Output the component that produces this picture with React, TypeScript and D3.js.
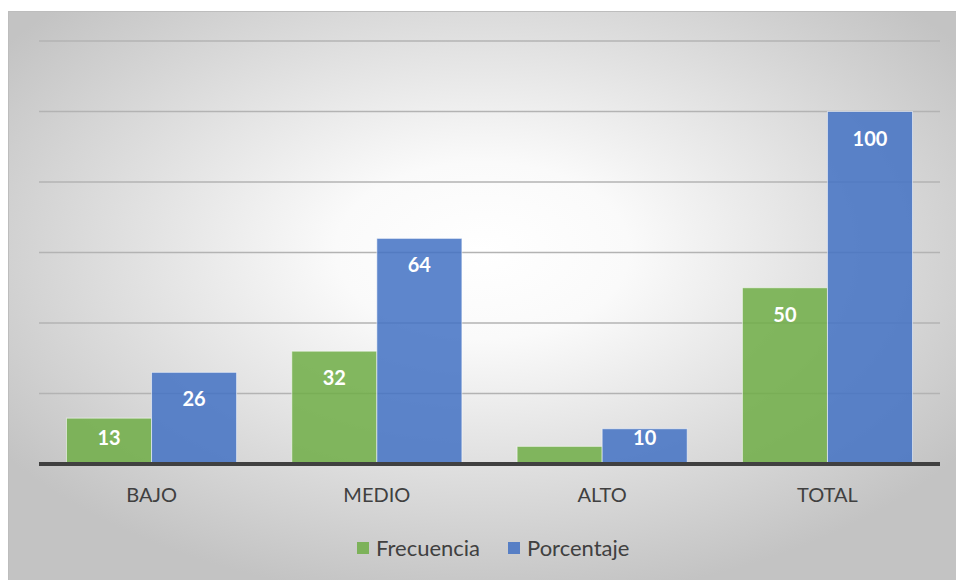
import React, { useRef, useEffect } from "react";
import * as d3 from "d3";

const categories = ["BAJO", "MEDIO", "ALTO", "TOTAL"];
const series = ["Frecuencia", "Porcentaje"];
const frecuencia = [13, 32, 5, 50];
const porcentaje = [26, 64, 10, 100];
const yTicks = [0, 20, 40, 60, 80, 100, 120];
const colors = ["#70AD47", "#4472C4"];

const W = 956;
const H = 580;

function App() {
  const svgRef = useRef<SVGSVGElement>(null);

  useEffect(() => {
    const svg = d3.select(svgRef.current);
    svg.selectAll("*").remove();

    const font = "Lato, 'Open Sans', sans-serif";
    const plot = { left: 39, right: 940, top: 41, bottom: 464 };

    const defs = svg.append("defs");
    const grad = defs
      .append("radialGradient")
      .attr("id", "bg")
      .attr("cx", "50%")
      .attr("cy", "42%")
      .attr("r", "62%");
    grad.append("stop").attr("offset", "0%").attr("stop-color", "#ffffff");
    grad.append("stop").attr("offset", "25%").attr("stop-color", "#fafafa");
    grad.append("stop").attr("offset", "100%").attr("stop-color", "#c3c3c3");

    svg
      .append("rect")
      .attr("x", 8.5)
      .attr("y", 11.5)
      .attr("width", W - 8)
      .attr("height", H - 11)
      .attr("fill", "url(#bg)")
      .attr("stroke", "#bdbdbd");

    const x = d3
      .scaleBand()
      .domain(categories)
      .range([plot.left, plot.right])
      .paddingInner(0.245)
      .paddingOuter(0.122);
    const xs = d3.scaleBand().domain(series).range([0, x.bandwidth()]);
    const y = d3.scaleLinear().domain([0, 120]).range([plot.bottom, plot.top]);

    // gridlines
    svg
      .append("g")
      .selectAll("line")
      .data(yTicks.slice(1))
      .enter()
      .append("line")
      .attr("x1", plot.left)
      .attr("x2", plot.right)
      .attr("y1", (d) => y(d))
      .attr("y2", (d) => y(d))
      .attr("stroke", "#b3b3b3")
      .attr("stroke-width", 1.5);

    const rows = categories.map((c, i) => ({
      cat: c,
      vals: [frecuencia[i], porcentaje[i]],
    }));

    const groups = svg
      .append("g")
      .selectAll("g")
      .data(rows)
      .enter()
      .append("g")
      .attr("transform", (d) => `translate(${x(d.cat)},0)`);

    groups
      .selectAll("rect")
      .data((d) => d.vals.map((v, j) => ({ v, s: series[j], j })))
      .enter()
      .append("rect")
      .attr("x", (d) => xs(d.s)!)
      .attr("width", xs.bandwidth())
      .attr("y", (d) => y(d.v))
      .attr("height", (d) => plot.bottom - y(d.v))
      .attr("fill", (d) => colors[d.j])
      .attr("fill-opacity", 0.86)
      .attr("stroke", "rgba(255,255,255,0.55)")
      .attr("stroke-width", 1);

    // labels inside end, hidden when the bar is too short
    groups
      .selectAll("text")
      .data((d) =>
        d.vals
          .map((v, j) => ({ v, s: series[j], j }))
          .filter((d) => plot.bottom - y(d.v) > 25)
      )
      .enter()
      .append("text")
      .attr("x", (d) => xs(d.s)! + xs.bandwidth() / 2)
      .attr("y", (d) => Math.min(y(d.v) + 27, plot.bottom - 26))
      .attr("dy", "0.35em")
      .attr("text-anchor", "middle")
      .attr("fill", "#ffffff")
      .attr("font-family", font)
      .attr("font-weight", "bold")
      .attr("font-size", 20)
      .text((d) => d.v);

    svg
      .append("line")
      .attr("x1", plot.left)
      .attr("x2", plot.right)
      .attr("y1", plot.bottom)
      .attr("y2", plot.bottom)
      .attr("stroke", "#404040")
      .attr("stroke-width", 4);

    svg
      .append("g")
      .selectAll("text")
      .data(categories)
      .enter()
      .append("text")
      .attr("x", (d) => x(d)! + x.bandwidth() / 2)
      .attr("y", 495)
      .attr("dy", "0.35em")
      .attr("text-anchor", "middle")
      .attr("fill", "#404040")
      .attr("font-family", font)
      .attr("font-size", 20)
      .text((d) => d);

    const legendX = [357, 508];
    const legend = svg
      .append("g")
      .selectAll("g")
      .data(series)
      .enter()
      .append("g")
      .attr("transform", (d, i) => `translate(${legendX[i]},548)`);
    legend
      .append("rect")
      .attr("x", 0)
      .attr("y", -6)
      .attr("width", 12)
      .attr("height", 12)
      .attr("fill", (d, i) => colors[i])
      .attr("fill-opacity", 0.86);
    legend
      .append("text")
      .attr("x", 19)
      .attr("y", 0)
      .attr("dy", "0.35em")
      .attr("fill", "#404040")
      .attr("font-family", font)
      .attr("font-size", 22)
      .text((d) => d);
  }, []);

  return (
    <svg
      ref={svgRef}
      width={W}
      height={H}
      style={{ position: "absolute", left: 0, top: 0 }}
    ></svg>
  );
}

export default App;
